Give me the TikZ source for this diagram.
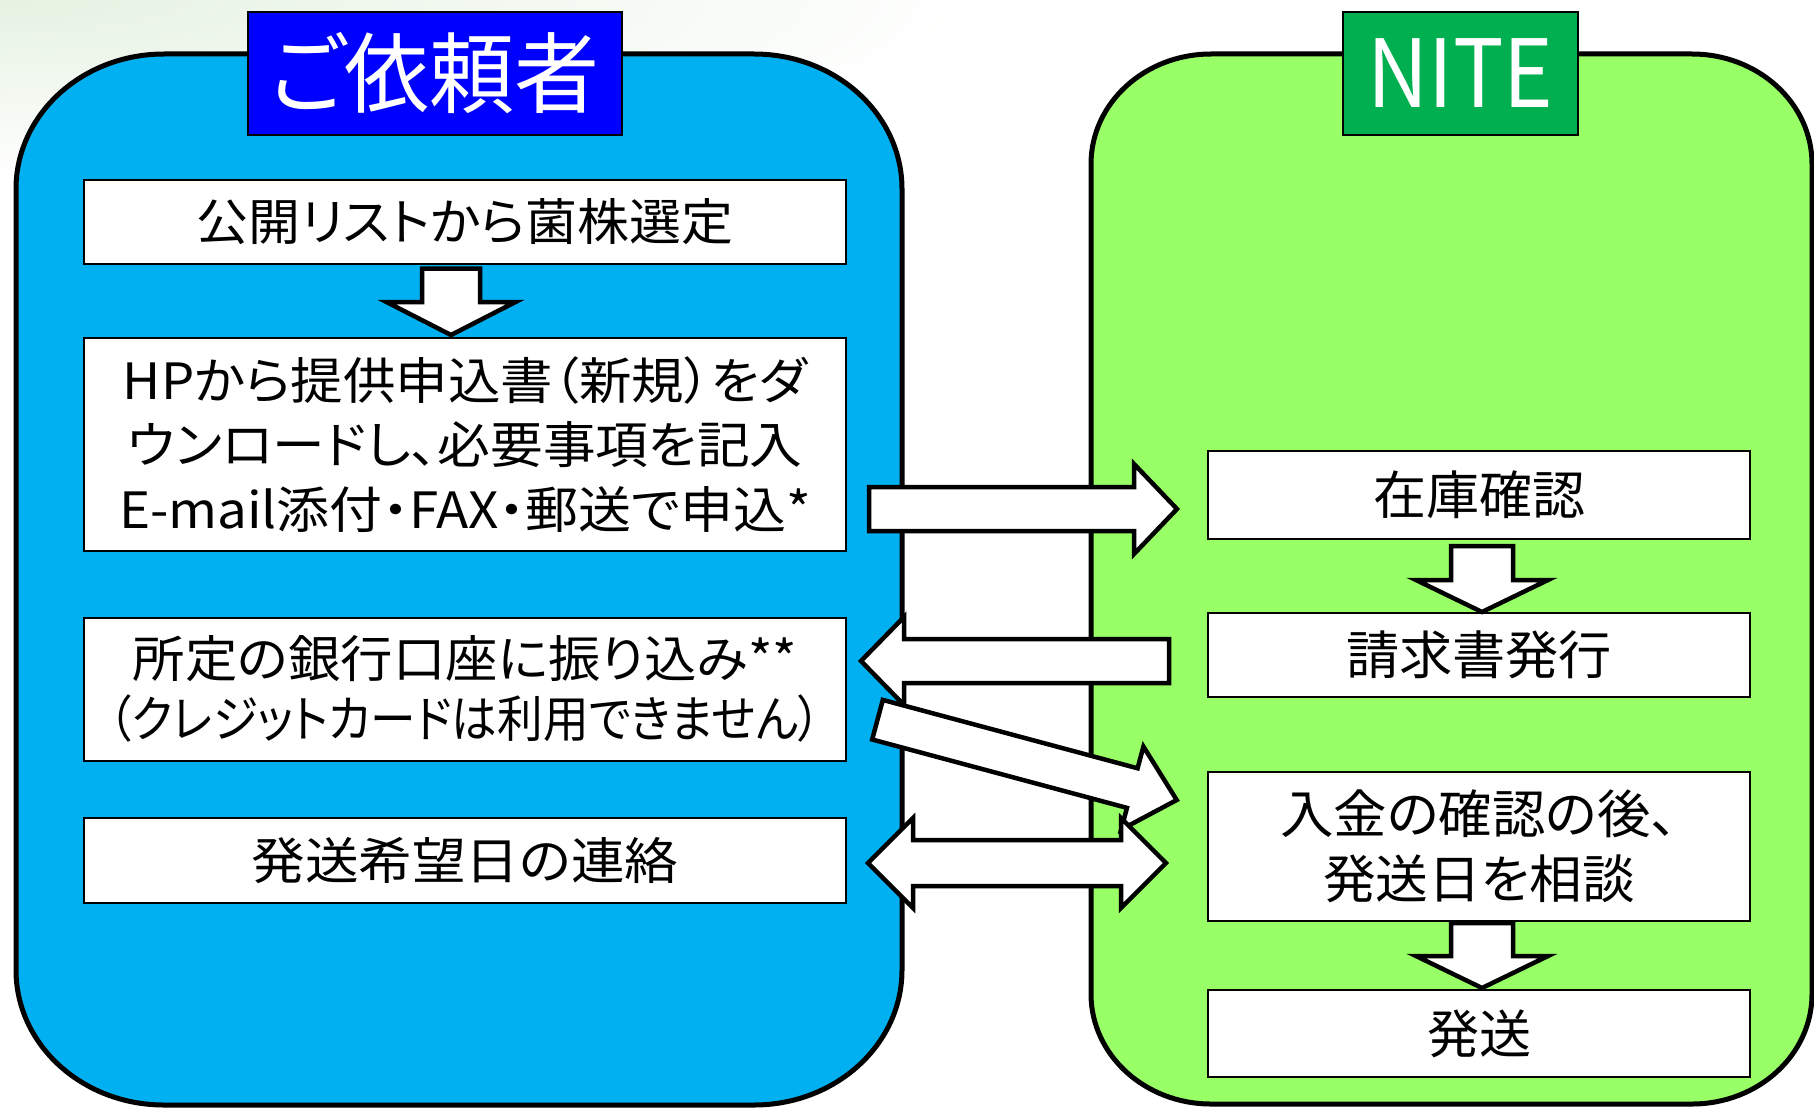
\documentclass[tikz,border=0pt]{standalone}
\usepackage{fontspec}
\setmainfont{Noto Sans CJK JP}[RawFeature=+palt]
\usetikzlibrary{calc}
\definecolor{panelblue}{HTML}{00B0F0}
\definecolor{panelgreen}{HTML}{99FF66}
\definecolor{titleblue}{HTML}{0000FF}
\definecolor{titlegreen}{HTML}{00B050}
\definecolor{bgtint}{HTML}{E6F2E2}
\newcommand\fitw[2]{\resizebox{#1pt}{\height}{#2}}
\newcommand\barrow[5]{%
  \coordinate (bh) at ($(#2)!#5!(#1)$);
  \draw[arrowsty] ($(#1)!#3!90:(#2)$) -- ($(bh)!#3!-90:(#1)$) -- ($(bh)!#4!-90:(#1)$) -- (#2)
    -- ($(bh)!#4!90:(#1)$) -- ($(bh)!#3!90:(#1)$) -- ($(#1)!#3!-90:(#2)$) -- cycle;}
\newcommand\dbarrow[5]{%
  \coordinate (bha) at ($(#1)!#5!(#2)$);
  \coordinate (bhb) at ($(#2)!#5!(#1)$);
  \draw[arrowsty] (#1) -- ($(bha)!#4!90:(#2)$) -- ($(bha)!#3!90:(#2)$) -- ($(bhb)!#3!-90:(#1)$)
    -- ($(bhb)!#4!-90:(#1)$) -- (#2) -- ($(bhb)!#4!90:(#1)$) -- ($(bhb)!#3!90:(#1)$)
    -- ($(bha)!#3!-90:(#2)$) -- ($(bha)!#4!-90:(#2)$) -- cycle;}
\tikzset{
  panel/.style={line width=5pt, draw=black},
  titlebox/.style={draw=black, line width=2pt, inner sep=0pt, text=white},
  wbox/.style={draw=black, fill=white, line width=2pt, inner sep=0pt, align=center, text=black},
  ltext/.style={font=\fontsize{50}{64.5}\selectfont},
  rtext/.style={font=\fontsize{52}{64.5}\selectfont},
  arrowsty/.style={draw=black, fill=white, line width=4.5pt, line join=miter, miter limit=10},
}
\begin{document}
\begin{tikzpicture}[x=1pt,y=1pt]
\useasboundingbox (0,0) rectangle (1814,-1108);
\fill[white] (0,0) rectangle (1814,-1108);
\shade[inner color=bgtint, outer color=white] (0,0) ellipse [x radius=1000, y radius=180];
% panels
\draw[panel, fill=panelblue] (164,-54) -- (754,-54)
  arc[start angle=90, end angle=0, x radius=148, y radius=135] -- (902,-970)
  arc[start angle=0, end angle=-90, x radius=148, y radius=135] -- (164,-1105)
  arc[start angle=270, end angle=180, x radius=148, y radius=135] -- (16,-189)
  arc[start angle=180, end angle=90, x radius=148, y radius=135] -- cycle;
\draw[panel, fill=panelgreen] (1211,-54) -- (1692,-54)
  arc[start angle=90, end angle=0, x radius=120, y radius=110] -- (1812,-994)
  arc[start angle=0, end angle=-90, x radius=120, y radius=110] -- (1211,-1104)
  arc[start angle=270, end angle=180, x radius=120, y radius=110] -- (1091,-164)
  arc[start angle=180, end angle=90, x radius=120, y radius=110] -- cycle;
% titles
\node[titlebox, fill=titleblue, minimum width=374.5pt, minimum height=123.3pt,
  font=\fontsize{88}{90}\selectfont] (t1) at (434.75,-73.35) {\fitw{330}{ご依頼者}};
\node[titlebox, fill=titlegreen, minimum width=235pt, minimum height=123pt,
  font=\fontsize{94}{96}\selectfont] (t2) at (1460.5,-73.5) {\fitw{186}{NITE}};
% left boxes
\node[wbox, ltext, minimum width=762pt, minimum height=84pt] (b1) at (465,-222)
  {\fitw{536}{公開リストから菌株選定}};
\node[wbox, ltext, minimum width=762pt, minimum height=213pt] (b2) at (465,-444.5)
  {\fitw{684}{HPから提供申込書（新規）をダ}\\\fitw{675}{ウンロードし、必要事項を記入}\\\fitw{692}{E-mail添付・FAX・郵送で申込*}};
\node[wbox, font=\fontsize{50}{60.5}\selectfont, minimum width=762pt, minimum height=143pt] (b3) at (465,-689)
  {\fitw{664}{所定の銀行口座に振り込み**}\\\fitw{712}{（クレジットカードは利用できません）}};
\node[wbox, ltext, minimum width=762pt, minimum height=85pt] (b4) at (465,-860.5)
  {\fitw{427}{発送希望日の連絡}};
% right boxes
\node[wbox, rtext, minimum width=542pt, minimum height=88pt] (r1) at (1479,-495)
  {\fitw{212}{在庫確認}};
\node[wbox, rtext, minimum width=542pt, minimum height=84pt] (r2) at (1479,-655)
  {\fitw{266}{請求書発行}};
\node[wbox, rtext, minimum width=542pt, minimum height=149pt] (r3) at (1479,-846.5)
  {\fitw{397}{入金の確認の後、}\\\fitw{312}{発送日を相談}};
\node[wbox, rtext, minimum width=542pt, minimum height=87pt] (r4) at (1479,-1033.5)
  {\fitw{104}{発送}};
% arrow end points
\coordinate (d1s) at (451,-268.6);
\coordinate (d1e) at (451,-335);
\coordinate (d2s) at (1482,-546);
\coordinate (d2e) at (1482,-612);
\coordinate (d3s) at (1482,-923);
\coordinate (d3e) at (1482,-988);
\coordinate (as) at (869,-509);
\coordinate (ae) at (1177,-509);
\coordinate (bs) at (1169,-661);
\coordinate (be) at (861,-661);
\coordinate (cs) at (877.5,-719.7);
\coordinate (ce) at (1176.7,-800);
\coordinate (dl) at (868,-863);
\coordinate (dr) at (1166,-863);
% arrows
\barrow{d1s}{d1e}{29pt}{64.5pt}{33pt}
\barrow{d2s}{d2e}{31pt}{66pt}{32pt}
\barrow{d3s}{d3e}{31pt}{66pt}{32pt}
\barrow{as}{ae}{22pt}{45pt}{43pt}
\barrow{bs}{be}{22pt}{44pt}{43pt}
\barrow{cs}{ce}{20.5pt}{43pt}{46pt}
\dbarrow{dl}{dr}{23pt}{45pt}{45pt}
\end{tikzpicture}
\end{document}
